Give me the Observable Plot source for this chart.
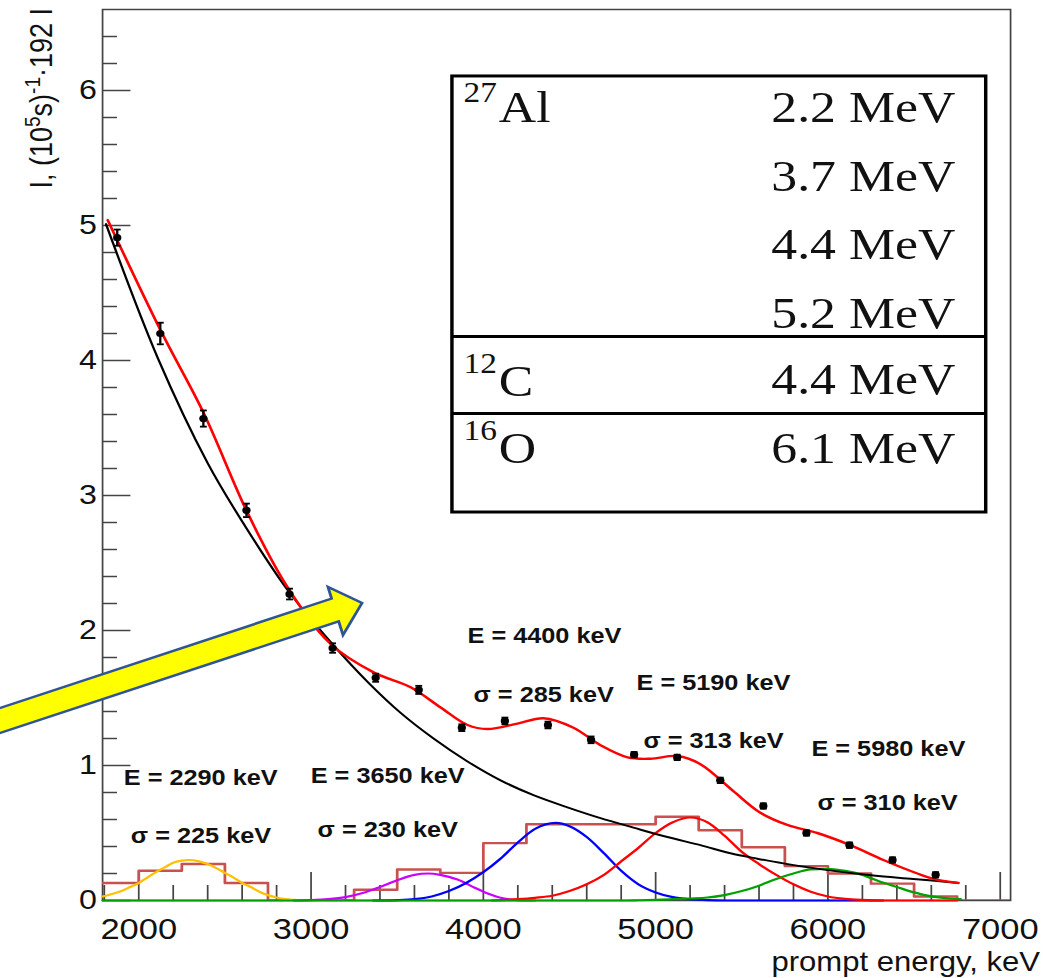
<!DOCTYPE html>
<html><head><meta charset="utf-8">
<script src="https://cdn.jsdelivr.net/npm/d3@7"></script>
<script src="https://cdn.jsdelivr.net/npm/@observablehq/plot@0.6"></script>
<style>html,body{margin:0;padding:0;background:#fff;} #chart svg{display:block}</style>
</head><body><div id="chart"></div>
<script>
// ---- measured data points (prompt energy, keV ; intensity) ----
const energies = [1875,2125,2375,2625,2875,3125,3375,3625,3875,4125,4375,4625,4875,5125,5375,5625,5875,6125,6375,6625];
const intensities = [4.91,4.20,3.57,2.89,2.27,1.87,1.65,1.56,1.28,1.33,1.30,1.19,1.08,1.06,0.89,0.70,0.50,0.41,0.30,0.19];
const errors = [0.06,0.08,0.06,0.05,0.04,0.035,0.03,0.03,0.025,0.025,0.025,0.025,0.02,0.02,0.02,0.02,0.02,0.02,0.02,0.02];

// ---- residual histogram (bin lower edges, values) ----
const histEdges = [1750,2000,2250,2500,2750,3000,3250,3500,3750,4000,4250,4500,4750,5000,5250,5500,5750,6000,6250,6500,6750,7000];
const histValues = [0.13,0.22,0.27,0.13,0,0,0.08,0.23,0.205,0.425,0.565,0.565,0.565,0.62,0.52,0.395,0.255,0.20,0.125,0.03,0,0];

// ---- fitted curves [keV, value] ----
const backgroundFit = [[1810,5.01],[2110,4.02],[2400,3.24],[2609,2.79],[2864,2.30],[3131,1.89],[3328,1.62],[3520,1.39],[3711,1.20],[3908,1.03],[4100,0.89],[4291,0.78],[4488,0.69],[4680,0.61],[4871,0.54],[5068,0.47],[5260,0.41],[5434,0.35],[5590,0.31],[5741,0.275],[5997,0.225],[6264,0.185],[6496,0.16],[6757,0.13]];
const totalFit = [[1820,5.04],[2128,4.22],[2377,3.61],[2632,2.87],[2864,2.32],[3114,1.90],[3363,1.69],[3578,1.58],[3752,1.43],[3908,1.30],[4024,1.27],[4198,1.31],[4349,1.35],[4523,1.28],[4680,1.15],[4837,1.06],[4970,1.05],[5126,1.07],[5260,1.01],[5451,0.81],[5608,0.65],[5764,0.56],[5938,0.50],[6130,0.41],[6322,0.30],[6519,0.20],[6612,0.16],[6757,0.13]];
const peak2290 = [[1790,0.03],[1850,0.05],[1900,0.07],[1950,0.10],[2000,0.13],[2050,0.17],[2100,0.21],[2150,0.245],[2200,0.28],[2250,0.295],[2290,0.30],[2350,0.29],[2400,0.27],[2450,0.24],[2500,0.205],[2550,0.17],[2600,0.13],[2650,0.10],[2700,0.065],[2750,0.04],[2800,0.022],[2850,0.01],[2900,0.004],[2950,0]];
const peak3650 = [[2900,0],[3000,0.003],[3100,0.01],[3200,0.025],[3300,0.055],[3400,0.10],[3500,0.15],[3600,0.19],[3680,0.20],[3750,0.19],[3850,0.155],[3950,0.095],[4000,0.065],[4050,0.04],[4100,0.02],[4150,0.009],[4200,0.003],[4300,0]];
const peak4400 = [[3360,0],[3500,0.003],[3600,0.01],[3700,0.03],[3800,0.07],[3900,0.13],[4000,0.21],[4100,0.31],[4200,0.43],[4300,0.53],[4420,0.575],[4500,0.55],[4600,0.47],[4700,0.35],[4800,0.22],[4900,0.12],[5000,0.06],[5100,0.025],[5200,0.01],[5300,0.003],[5400,0],[6320,0]];
const peak5190 = [[4050,0],[4200,0.01],[4300,0.02],[4400,0.035],[4500,0.07],[4600,0.12],[4700,0.19],[4800,0.29],[4900,0.39],[5000,0.50],[5100,0.58],[5200,0.615],[5300,0.58],[5400,0.48],[5500,0.36],[5600,0.27],[5700,0.19],[5800,0.12],[5900,0.065],[6000,0.03],[6100,0.012],[6200,0.004],[6300,0],[6750,0]];
const peak5980 = [[1790,0],[4800,0],[4900,0.002],[5000,0.005],[5100,0.01],[5200,0.015],[5300,0.022],[5400,0.04],[5500,0.07],[5600,0.11],[5700,0.16],[5800,0.20],[5900,0.23],[5980,0.235],[6100,0.22],[6200,0.19],[6300,0.14],[6400,0.10],[6500,0.06],[6600,0.03],[6700,0.015],[6770,0.01]];

// ---- ticks ----
const xMajorTicks = [2000,3000,4000,5000,6000,7000];
const xMinorTicks = [1800,2200,2400,2600,2800,3200,3400,3600,3800,4200,4400,4600,4800,5200,5400,5600,5800,6200,6400,6600,6800];
const yMajorTicks = [0,1,2,3,4,5,6];
const yMinorTicks = [0.2,0.4,0.6,0.8,1.2,1.4,1.6,1.8,2.2,2.4,2.6,2.8,3.2,3.4,3.6,3.8,4.2,4.4,4.6,4.8,5.2,5.4,5.6,5.8,6.2,6.4];

// ---- texts ----
const peakLabels = ["E = 2290 keV","σ = 225 keV","E = 3650 keV","σ = 230 keV","E = 4400 keV","σ = 285 keV","E = 5190 keV","σ = 313 keV","E = 5980 keV","σ = 310 keV"];
const legendEnergies = ["2.2 MeV","3.7 MeV","4.4 MeV","5.2 MeV","4.4 MeV","6.1 MeV"];
const legendMass = ["27","12","16"];
const legendElement = ["Al","C","O"];
const xTitle = "prompt energy, keV";

// ---- layout ----
const SX = 1.15;              // horizontal stretch of the original picture
const W = 1043 / SX, H = 978;
const labelX = [1913,1954,2998,3038,3908,3943,4889,4929,5904,5939];
const labelY = [0.911,0.48,0.926,0.52,1.956,1.526,1.615,1.185,1.119,0.726];
const legendRowY = [5.870,5.366,4.862,4.351,3.862,3.351];
const legendElemY = [5.870,3.847,3.351];
const legendMassY = [5.982,3.975,3.479];

const points = energies.map((e,i)=>({e, v: intensities[i], err: errors[i]}));
const hist = histEdges.map((x,i)=>({x, y: histValues[i]})).concat([{x: 7250, y: 0}]);
const toRows = arr => arr.map(([x,y])=>({x,y}));
const axisColor = "#444";
const serif = "Liberation Serif, Times New Roman, serif";
const sans = "Liberation Sans, Arial, Helvetica, sans-serif";

const plot = Plot.plot({
  width: W, height: H,
  marginLeft: 102 / SX, marginRight: 33 / SX, marginTop: 9, marginBottom: 78,
  x: {domain: [1790, 7060]},
  y: {domain: [0, 6.6]},
  style: {fontFamily: sans, background: "white", color: "#111"},
  marks: [
    Plot.frame({stroke: axisColor, strokeWidth: 1.5}),
    Plot.ruleX(xMinorTicks, {x: d => d, y1: 0, y2: 15/135, stroke: axisColor, strokeWidth: 1.5}),
    Plot.ruleX(xMajorTicks, {x: d => d, y1: 0, y2: 28/135, stroke: axisColor, strokeWidth: 1.5}),
    Plot.ruleY(yMinorTicks, {y: d => d, x1: 1790, x2: 1790 + 87, stroke: axisColor, strokeWidth: 1.5}),
    Plot.ruleY(yMajorTicks, {y: d => d, x1: 1790, x2: 1790 + 165, stroke: axisColor, strokeWidth: 1.5}),
    Plot.axisX(xMajorTicks, {tickSize: 0, tickPadding: 17, fontSize: 30, label: null, tickFormat: d => String(d), fill: "#111"}),
    Plot.axisY(yMajorTicks, {tickSize: 0, tickPadding: 5, fontSize: 28, label: null, tickFormat: d => String(d), fill: "#111"}),
    Plot.line(hist, {x: "x", y: "y", curve: "step-after", stroke: "#c8524f", strokeWidth: 2.4, clip: true}),
    Plot.line(toRows(peak2290), {x: "x", y: "y", curve: "monotone-x", stroke: "#ffc000", strokeWidth: 2.2}),
    Plot.line(toRows(peak3650), {x: "x", y: "y", curve: "monotone-x", stroke: "#cc00ff", strokeWidth: 2.2}),
    Plot.line(toRows(peak4400), {x: "x", y: "y", curve: "monotone-x", stroke: "#0000ff", strokeWidth: 2.2}),
    Plot.line(toRows(peak5190), {x: "x", y: "y", curve: "monotone-x", stroke: "#ff0000", strokeWidth: 2.2}),
    Plot.line(toRows(peak5980), {x: "x", y: "y", curve: "monotone-x", stroke: "#00a000", strokeWidth: 2.2}),
    Plot.line(toRows(backgroundFit), {x: "x", y: "y", curve: "catmull-rom", stroke: "#000", strokeWidth: 2}),
    Plot.line(toRows(totalFit), {x: "x", y: "y", curve: "catmull-rom", stroke: "#ff0000", strokeWidth: 2.4}),
    Plot.ruleX(points, {x: "e", y1: d => d.v - d.err, y2: d => d.v + d.err, stroke: "#000", strokeWidth: 2}),
    Plot.link(points, {x1: d => d.e - 20, x2: d => d.e + 20, y1: d => d.v + d.err, y2: d => d.v + d.err, stroke: "#000", strokeWidth: 1.8}),
    Plot.link(points, {x1: d => d.e - 20, x2: d => d.e + 20, y1: d => d.v - d.err, y2: d => d.v - d.err, stroke: "#000", strokeWidth: 1.8}),
    Plot.dot(points, {x: "e", y: "v", r: 3.6, fill: "#000"}),
    Plot.text(peakLabels, {x: (d,i) => labelX[i], y: (d,i) => labelY[i], text: d => d, textAnchor: "start", fontWeight: "bold", fontSize: 22, fontFamily: sans, fill: "#111"}),
    Plot.rect([0], {x1: 3821, x2: 6919, y1: 2.874, y2: 6.104, fill: "white", stroke: "#000", strokeWidth: 3}),
    Plot.ruleY([4.178, 3.607], {y: d => d, x1: 3821, x2: 6919, stroke: "#000", strokeWidth: 3}),
    Plot.text(legendEnergies, {x: 6739, y: (d,i) => legendRowY[i], text: d => d, textAnchor: "end", fontSize: 45, fontFamily: serif, fill: "#111"}),
    Plot.text(legendElement, {x: 4090, y: (d,i) => legendElemY[i], text: d => d, textAnchor: "start", fontSize: 45, fontFamily: serif, fill: "#111"}),
    Plot.text(legendMass, {x: 3885, y: (d,i) => legendMassY[i], text: d => d, textAnchor: "start", fontSize: 29, fontFamily: serif, fill: "#111"})
  ]
});

plot.setAttribute("width", 1043);
plot.setAttribute("height", 978);
plot.setAttribute("preserveAspectRatio", "none");
plot.style.width = "1043px";
plot.style.height = "978px";
plot.style.maxWidth = "none";
document.getElementById("chart").appendChild(plot);

const svg = d3.select(plot);
// y axis title (rotated, with superscripts)
const yt = svg.append("text")
  .attr("transform", "translate(45,8) rotate(-90)")
  .attr("text-anchor", "end")
  .attr("font-family", sans)
  .attr("font-size", 27)
  .attr("fill", "#111");
yt.append("tspan").text("I, (10");
yt.append("tspan").attr("dy", -10).attr("font-size", 19).text("5");
yt.append("tspan").attr("dy", 10).text("s)");
yt.append("tspan").attr("dy", -10).attr("font-size", 19).text("-1");
yt.append("tspan").attr("dy", 10).text("·192 I");

// x axis title
svg.append("text")
  .attr("x", 1040 / SX).attr("y", 971)
  .attr("text-anchor", "end")
  .attr("font-family", sans)
  .attr("font-size", 27)
  .attr("fill", "#111")
  .text(xTitle);

// yellow annotation arrow (overlay)
const arrowPx = [[-20,714.6],[331.6,598.6],[328,587],[362,603],[343,635],[338.7,621.3],[-20,739.6]];
svg.append("polygon")
  .attr("points", arrowPx.map(([x,y]) => `${x / SX},${y}`).join(" "))
  .attr("fill", "#ffff00")
  .attr("stroke", "#2f5597")
  .attr("stroke-width", 2.5)
  .attr("stroke-linejoin", "miter");
</script>
</body></html>
